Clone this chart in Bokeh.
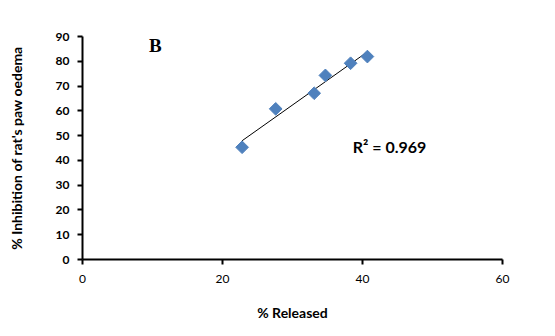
import numpy as np
from bokeh.plotting import figure
from bokeh.models import Range1d, FixedTicker, Label
from bokeh.embed import file_html
from bokeh.resources import INLINE

released = [22.8, 27.6, 33.1, 34.7, 38.3, 40.7]
inhibition = [45.3, 60.8, 67.1, 74.3, 79.2, 81.9]
x_ticks = [0, 20, 40, 60]
y_ticks = [0, 10, 20, 30, 40, 50, 60, 70, 80, 90]
r2_text = "R\u00b2 = 0.969"
panel_label = "B"

p = figure(width=555, height=336, output_backend="svg", toolbar_location=None,
           x_range=Range1d(0, 60), y_range=Range1d(0, 90),
           min_border_left=82, min_border_right=53, min_border_top=36, min_border_bottom=77)
p.outline_line_color = None
p.xgrid.visible = False
p.ygrid.visible = False
p.background_fill_color = "white"

FONT = "Lato"
for ax in (p.xaxis[0], p.yaxis[0]):
    ax.axis_line_color = "black"
    ax.axis_line_width = 2
    ax.major_tick_line_color = "black"
    ax.major_tick_line_width = 2
    ax.minor_tick_line_color = None
    ax.major_tick_in = 0
    ax.major_tick_out = 5
    ax.major_label_text_font = FONT
    ax.major_label_text_font_size = "12px"
    ax.major_label_text_color = "black"
    ax.axis_label_text_font = FONT
    ax.axis_label_text_font_size = "14px"
    ax.axis_label_text_font_style = "bold"
    ax.axis_label_text_color = "black"

p.yaxis.major_label_text_font_style = "bold"
p.xaxis.ticker = FixedTicker(ticks=x_ticks)
p.yaxis.ticker = FixedTicker(ticks=y_ticks)
p.xaxis.axis_label = "% Released"
p.yaxis.axis_label = "% Inhibition of rat's paw oedema"
p.xaxis.major_label_standoff = 10
p.yaxis.major_label_standoff = 8
p.xaxis.axis_label_standoff = 18
p.yaxis.axis_label_standoff = 28

# linear least-squares trendline from the data
xs = np.array(released)
ys = np.array(inhibition)
slope, intercept = np.polyfit(xs, ys, 1)
tx = [xs.min(), xs.max()]
ty = [slope * v + intercept for v in tx]
p.line(tx, ty, line_color="black", line_width=1)

p.scatter(released, inhibition, marker="square", size=9, angle=np.pi / 4,
          fill_color="#4F81BD", line_color="#4F81BD")

p.add_layout(Label(x=38.6, y=45.6, text=r2_text, text_font=FONT, text_font_size="16px",
                   text_font_style="bold", text_baseline="middle", text_align="left",
                   text_color="black"))
p.add_layout(Label(x=9.5, y=86.4, text=panel_label, text_font="Liberation Serif",
                   text_font_size="19px", text_font_style="bold", text_baseline="middle",
                   text_align="left", text_color="black"))

open("out.html", "w").write(file_html(p, INLINE))
